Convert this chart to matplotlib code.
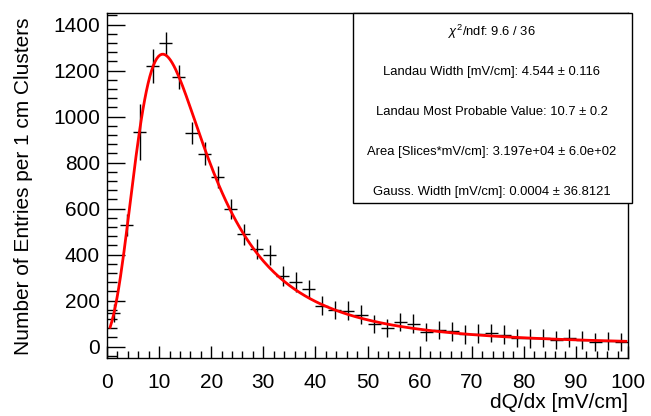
import numpy as np
import matplotlib
matplotlib.use("Agg")
import matplotlib.pyplot as plt
from matplotlib.ticker import MultipleLocator
from matplotlib.patches import Rectangle

plt.rcParams['font.family'] = ['Liberation Sans', 'DejaVu Sans']
plt.rcParams['mathtext.fontset'] = 'custom'
plt.rcParams['mathtext.rm'] = 'Liberation Sans'
plt.rcParams['mathtext.it'] = 'Liberation Sans:italic'

# histogram: 40 bins of 2.5 mV/cm
bin_centers = np.arange(1.25, 100, 2.5)
counts = [145, 529, 933, 1218, 1319, 1172, 929, 838, 738, 598,
          488, 423, 399, 308, 279, 250, 178, 160, 156, 139,
          98, 81, 107, 100, 64, 71, 66, 53, 55, 59,
          52, 38, 35, 38, 27, 38, 27, 20, 23, 19]
errors = [40, 49, 120, 74, 50, 52, 48, 50, 47, 45,
          45, 43, 43, 43, 43, 41, 43, 40, 40, 40,
          40, 40, 40, 40, 40, 40, 40, 40, 41, 41,
          40, 40, 40, 40, 40, 40, 40, 40, 40, 40]

# fit results (Landau x Gauss)
landau_width = 4.544
landau_mpv = 10.7
fit_area = 3.197e4
fit_range = (0.6, 99.6)

stats_lines = [r"$\chi^{2}$/ndf: 9.6 / 36",
               "Landau Width [mV/cm]: 4.544 ± 0.116",
               "Landau Most Probable Value: 10.7 ± 0.2",
               "Area [Slices*mV/cm]: 3.197e+04 ± 6.0e+02",
               "Gauss. Width [mV/cm]: 0.0004 ± 36.8121"]


def landau_density(lam):
    # integral representation of the Landau density
    t = np.linspace(1e-9, 60, 30001)
    integrand = np.exp(-t * np.log(t) - np.outer(lam, t)) * np.sin(np.pi * t)
    return np.trapezoid(integrand, t, axis=1) / np.pi


mpc = landau_mpv + 0.22278298 * landau_width
xf = np.linspace(fit_range[0], fit_range[1], 300)
yf = fit_area * landau_density((xf - mpc) / landau_width) / landau_width

fig = plt.figure(figsize=(6.51, 4.16), dpi=100)
ax = fig.add_axes([107 / 651, 1 - 358 / 416, 521 / 651, 345 / 416])

ax.errorbar(bin_centers, counts, xerr=1.25, yerr=errors, fmt='none',
            ecolor='black', elinewidth=1, capsize=0)
ax.plot(xf, yf, color='red', lw=2)

ax.set_xlim(0, 100)
ax.set_ylim(-50, 1450)
ax.xaxis.set_major_locator(MultipleLocator(10))
ax.xaxis.set_minor_locator(MultipleLocator(2))
ax.yaxis.set_major_locator(MultipleLocator(200))
ax.yaxis.set_minor_locator(MultipleLocator(40))
ax.tick_params(axis='both', which='both', direction='in', labelsize=15, width=1)
ax.tick_params(axis='y', which='major', length=13, pad=5)
ax.tick_params(axis='y', which='minor', length=7)
ax.tick_params(axis='x', which='major', length=9, pad=11)
ax.tick_params(axis='x', which='minor', length=5)
for sp in ax.spines.values():
    sp.set_linewidth(1)

fig.text(628 / 651, 1 - 403 / 416, "dQ/dx [mV/cm]", ha='right', va='center', fontsize=15)
fig.text(24 / 651, 1 - 186 / 416, "Number of Entries per 1 cm Clusters",
         ha='center', va='center', rotation=90, fontsize=15)

# stats box
box = Rectangle((353 / 651, 1 - 203 / 416), 279 / 651, 190 / 416,
                transform=fig.transFigure, facecolor='white', edgecolor='black',
                lw=1, zorder=5)
fig.patches.append(box)
for i, line in enumerate(stats_lines):
    fig.text(492 / 651, 1 - (32 + 40 * i) / 416, line, ha='center', va='center',
             fontsize=9.4, zorder=6)

fig.savefig("out.png", dpi=100)
